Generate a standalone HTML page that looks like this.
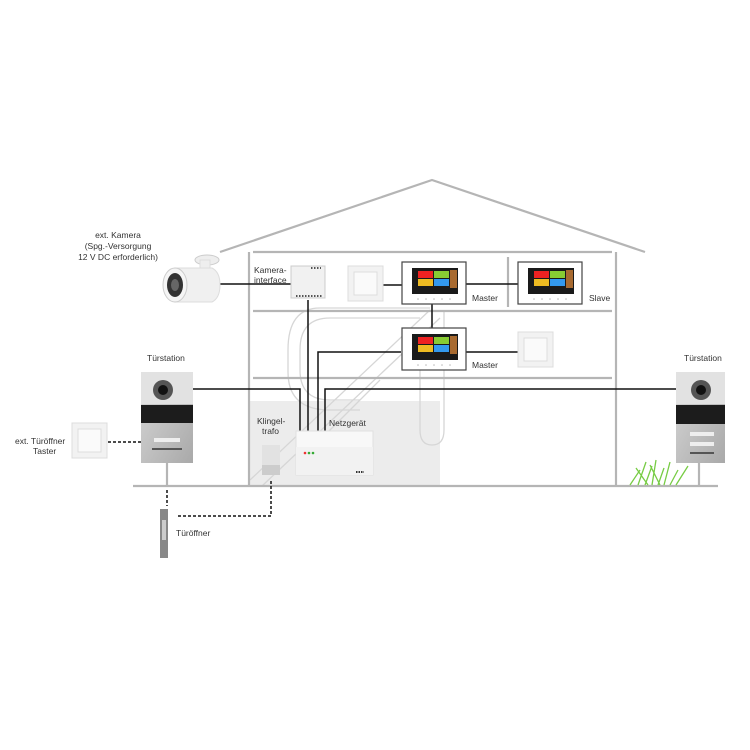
<!DOCTYPE html>
<html><head><meta charset="utf-8"><style>
body{margin:0;background:#fff}
svg{display:block}
text{font-family:"Liberation Sans",sans-serif;font-size:8.5px;fill:#333}
</style></head><body>
<svg width="750" height="750" viewBox="0 0 750 750" xmlns="http://www.w3.org/2000/svg">
<defs>
<linearGradient id="alu" x1="0" y1="0" x2="1" y2="1"><stop offset="0" stop-color="#d8d8d8"/><stop offset="1" stop-color="#a9a9a9"/></linearGradient>
<g id="mon">
<rect x="0" y="0" width="64" height="42" fill="#fff" stroke="#444" stroke-width="1.2"/>
<rect x="10" y="6" width="46" height="26" fill="#1a1a1a"/>
<rect x="16" y="9" width="15" height="7" fill="#e22"/>
<rect x="32" y="9" width="15" height="7" fill="#8c3"/>
<rect x="16" y="17" width="15" height="7" fill="#eb2"/>
<rect x="32" y="17" width="15" height="7" fill="#39e"/>
<rect x="48" y="8" width="7" height="18" fill="#a86a30"/>
<g fill="#bbb"><circle cx="16" cy="37" r="0.8"/><circle cx="24" cy="37" r="0.8"/><circle cx="32" cy="37" r="0.8"/><circle cx="40" cy="37" r="0.8"/><circle cx="48" cy="37" r="0.8"/></g>
</g>
<g id="sw">
<rect x="0" y="0" width="35" height="35" fill="#f2f2f2" stroke="#ddd"/>
<rect x="6" y="6" width="23" height="23" fill="#fafafa" stroke="#ddd"/>
</g>
</defs>
<rect x="250" y="401" width="190" height="85" fill="#ececec"/>
<g fill="none" stroke="#d6d6d6" stroke-width="1.3">
<path d="M420 318 L330 318 Q300 318 300 350 L300 370 Q300 400 330 400 L360 400"/>
<path d="M430 308 L320 308 Q288 308 288 350 L288 372 Q288 410 330 410 L360 410"/>
<path d="M250 480 L430 310"/><path d="M262 486 L440 318"/>
<path d="M420 330 L420 430 Q420 445 432 445 Q444 445 444 430 L444 310"/>
<path d="M310 450 L380 380"/>
</g>
<g stroke="#b5b5b5" stroke-width="2.2" fill="none">
<path d="M220 252 L432 180 L645 252"/>
<line x1="249" y1="252" x2="249" y2="486"/>
<line x1="616" y1="252" x2="616" y2="486"/>
<line x1="253" y1="252" x2="612" y2="252"/>
<line x1="253" y1="311" x2="612" y2="311"/>
<line x1="253" y1="378" x2="612" y2="378"/>
<line x1="508" y1="257" x2="508" y2="307"/>
<line x1="133" y1="486" x2="718" y2="486"/>
<line x1="167" y1="462" x2="167" y2="486"/>
<line x1="699" y1="462" x2="699" y2="486"/>
</g>
<g stroke="#111" stroke-width="1.5" fill="none">
<line x1="218" y1="284" x2="291" y2="284"/>
<line x1="383" y1="285" x2="402" y2="285"/>
<line x1="466" y1="284" x2="518" y2="284"/>
<line x1="432" y1="304" x2="432" y2="328"/>
<line x1="466" y1="352" x2="518" y2="352"/>
<path d="M401 352 L318 352 L318 433"/>
<line x1="308" y1="300" x2="308" y2="433"/>
<path d="M193 389 L300 389 L300 433"/>
<path d="M676 389 L325 389 L325 433"/>
</g>
<g stroke="#111" stroke-width="1.5" fill="none" stroke-dasharray="3,2">
<line x1="108" y1="442" x2="142" y2="442"/>
<line x1="167" y1="490" x2="167" y2="506"/>
<path d="M178 516 L271 516 L271 480"/>
</g>
<g>
<ellipse cx="207" cy="260" rx="12" ry="5" fill="#eee" stroke="#ccc"/>
<rect x="200" y="260" width="10" height="12" fill="#eee" stroke="#ddd"/>
<path d="M175 268 L212 268 Q220 272 220 285 Q220 298 212 302 L175 302 Z" fill="#f0f0f0" stroke="#ddd"/>
<ellipse cx="175" cy="285" rx="12" ry="17" fill="#f5f5f5" stroke="#ccc"/>
<ellipse cx="175" cy="285" rx="8" ry="12" fill="#333"/>
<ellipse cx="175" cy="285" rx="4" ry="6" fill="#666"/>
</g>
<rect x="291" y="266" width="34" height="32" fill="#f1f1f1" stroke="#ccc"/>
<line x1="296" y1="296" x2="322" y2="296" stroke="#555" stroke-width="2" stroke-dasharray="1.5,1.5"/>
<line x1="311" y1="268" x2="321" y2="268" stroke="#555" stroke-width="2" stroke-dasharray="1.5,1.5"/>
<use href="#sw" x="348" y="266"/>
<use href="#mon" x="402" y="262"/>
<use href="#mon" x="518" y="262"/>
<use href="#mon" x="402" y="328"/>
<use href="#sw" x="518" y="332"/>
<use href="#sw" x="72" y="423"/>
<g>
<rect x="141" y="372" width="52" height="91" fill="url(#alu)"/>
<rect x="141" y="372" width="52" height="32" fill="#e2e2e2"/>
<circle cx="163" cy="390" r="10" fill="#555"/><circle cx="163" cy="390" r="5" fill="#111"/>
<rect x="141" y="405" width="52" height="18" fill="#1c1c1c"/>
<rect x="154" y="438" width="26" height="4" fill="#eee"/>
<rect x="152" y="448" width="30" height="2" fill="#555"/>
</g>
<g>
<rect x="676" y="372" width="49" height="91" fill="url(#alu)"/>
<rect x="676" y="372" width="49" height="32" fill="#e2e2e2"/>
<circle cx="701" cy="390" r="10" fill="#555"/><circle cx="701" cy="390" r="5" fill="#111"/>
<rect x="676" y="405" width="49" height="19" fill="#1c1c1c"/>
<rect x="690" y="432" width="24" height="4" fill="#eee"/>
<rect x="690" y="442" width="24" height="4" fill="#eee"/>
<rect x="690" y="452" width="24" height="2" fill="#555"/>
</g>
<g stroke="#7c4" stroke-width="1.3">
<path d="M630 485 L640 470 M638 485 L646 462 M645 485 L652 466 M652 485 L656 460 M658 485 L664 468 M664 485 L670 462 M670 485 L678 470 M676 485 L688 466 M648 485 L636 468 M660 485 L650 465"/>
</g>
<rect x="296" y="431" width="77" height="44" fill="#f8f8f8" stroke="#e0e0e0"/>
<rect x="296" y="447" width="77" height="28" fill="#f2f2f2"/>
<circle cx="305" cy="453" r="1.3" fill="#e33"/><circle cx="309" cy="453" r="1.3" fill="#3a3"/><circle cx="313" cy="453" r="1.3" fill="#3a3"/>
<line x1="356" y1="472" x2="364" y2="472" stroke="#333" stroke-width="2" stroke-dasharray="1.5,1"/>
<rect x="262" y="445" width="18" height="30" fill="#e2e2e2"/>
<rect x="262" y="465" width="18" height="10" fill="#ccc"/>
<rect x="160" y="509" width="8" height="49" fill="#888"/>
<rect x="162" y="520" width="4" height="20" fill="#ccc"/>
<text x="118" y="238" text-anchor="middle">ext. Kamera</text>
<text x="118" y="249" text-anchor="middle">(Spg.-Versorgung</text>
<text x="118" y="260" text-anchor="middle">12 V DC erforderlich)</text>
<text x="254" y="273">Kamera-</text>
<text x="254" y="283">interface</text>
<text x="472" y="301">Master</text>
<text x="589" y="301">Slave</text>
<text x="472" y="368">Master</text>
<text x="147" y="361">Türstation</text>
<text x="684" y="361">Türstation</text>
<text x="257" y="424">Klingel-</text>
<text x="262" y="434">trafo</text>
<text x="329" y="426">Netzgerät</text>
<text x="15" y="444">ext. Türöffner</text>
<text x="33" y="454">Taster</text>
<text x="176" y="536">Türöffner</text>
</svg>
</body></html>
